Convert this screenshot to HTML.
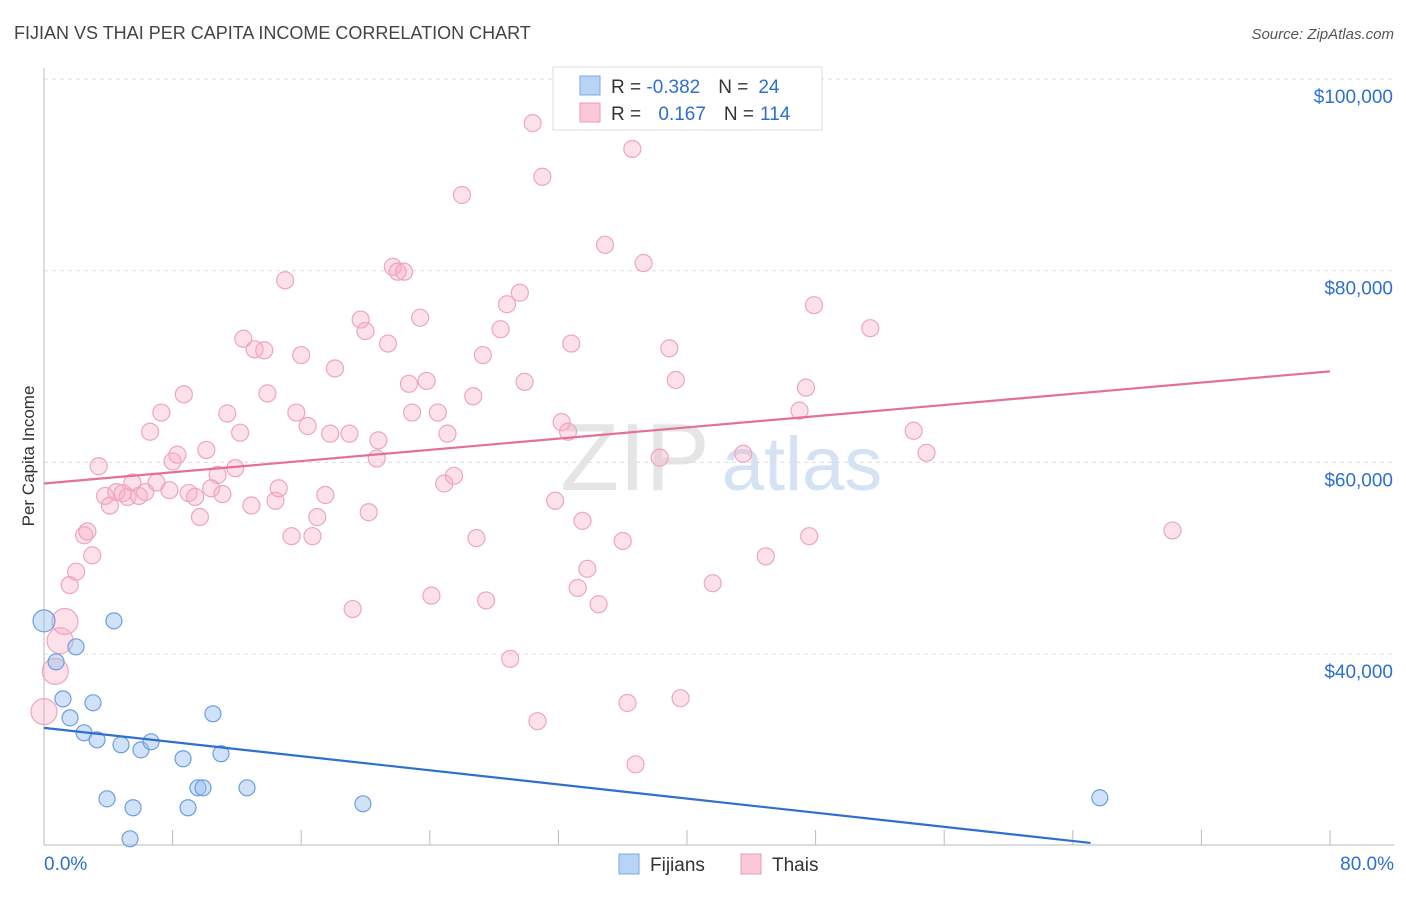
<!DOCTYPE html>
<html><head><meta charset="utf-8">
<style>
body{margin:0;background:#fff;font-family:"Liberation Sans",sans-serif;}
svg text{font-family:"Liberation Sans",sans-serif;}
</style></head>
<body>
<svg id="chart" width="1406" height="892" viewBox="0 0 1406 892" xmlns="http://www.w3.org/2000/svg">
<text x="14" y="39" font-size="18" fill="#444">FIJIAN VS THAI PER CAPITA INCOME CORRELATION CHART</text>
<text x="1394" y="39" font-size="15" fill="#555" text-anchor="end" font-style="italic">Source: ZipAtlas.com</text>
<text transform="translate(34,456) rotate(-90)" font-size="17" fill="#333" text-anchor="middle">Per Capita Income</text>
<g>
<text x="635" y="490" font-size="96" fill="#d5d5d5" font-family="Liberation Serif" text-anchor="middle" opacity="0.6">ZIP</text>
<text x="802" y="490" font-size="76" fill="#b8d0ee" text-anchor="middle" opacity="0.6">atlas</text>
</g>
<g id="grid"></g>
<g id="axes"></g>
<g id="marks"></g>
<g>
<rect x="553" y="67" width="269" height="63" fill="#fff" stroke="#ddd"/>
<rect x="580" y="76" width="20" height="19" fill="#b8d4f5" stroke="#7aaae0"/>
<rect x="580" y="103" width="20" height="19" fill="#fbc8d8" stroke="#e89ab4"/>
<text x="611" y="93" font-size="19" fill="#333">R = <tspan fill="#2e6fd0">-0.382</tspan><tspan dx="18">N =</tspan><tspan dx="10" fill="#2e6fd0">24</tspan></text>
<text x="611" y="120" font-size="19" fill="#333">R = <tspan dx="12" fill="#2e6fd0">0.167</tspan><tspan dx="18">N =</tspan><tspan dx="6" fill="#2e6fd0">114</tspan></text>
</g>
<g>
<rect x="619" y="854" width="20" height="20" fill="#b8d4f5" stroke="#7aaae0"/>
<text x="650" y="871" font-size="19" fill="#333">Fijians</text>
<rect x="741" y="854" width="20" height="20" fill="#fbc8d8" stroke="#e89ab4"/>
<text x="772" y="871" font-size="19" fill="#333">Thais</text>
</g>
</svg>
<script>
const yTicks=[40000,60000,80000,100000];
const yTickLabels=["$40,000","$60,000","$80,000","$100,000"];
const xTicks=[0,8,16,24,32,40,48,56,64,72,80];
const xEndLabels=["0.0%","80.0%"];
const fijianX=[0,0.75,1.18,1.62,1.99,2.49,3.05,3.3,3.92,4.35,4.79,5.54,5.35,6.03,6.66,8.65,8.96,9.58,9.89,10.51,11.01,12.63,19.84,65.68];
const fijianY=[43470,39190,35330,33350,40760,31790,34920,31060,24900,43470,30540,23970,20730,30010,30850,29080,23970,26050,26050,33770,29600,26050,24380,25010];
const thaiX=[0,0.7,1.0,1.3,1.6,2.0,2.5,2.7,3.0,3.4,3.8,4.1,4.5,4.9,5.2,5.5,5.9,6.3,6.6,7.0,7.3,7.8,8.0,8.3,8.7,9.0,9.4,9.7,10.1,10.4,10.8,11.1,11.4,11.9,12.2,12.4,12.9,13.1,13.7,13.9,14.4,14.6,15.0,15.4,15.7,16.0,16.4,16.7,17.0,17.5,17.8,18.1,19.0,19.2,19.7,20.0,20.2,20.7,20.8,21.4,21.7,22.0,22.4,22.7,22.9,23.4,23.8,24.1,24.5,24.9,25.1,25.5,26.0,26.7,26.9,27.3,27.5,28.4,28.8,29.0,29.6,29.9,30.4,30.7,31.0,31.8,32.2,32.6,32.8,33.2,33.5,33.8,34.5,34.9,36.0,36.3,36.6,36.8,37.3,38.3,38.9,39.3,39.6,41.6,43.5,44.9,47.0,47.4,47.6,47.9,51.4,54.1,54.9,70.2];
const thaiY=[34.0,38.2,41.4,43.4,47.2,48.6,52.4,52.8,50.3,59.6,56.5,55.5,56.9,56.8,56.4,57.9,56.5,56.9,63.2,57.9,65.2,57.1,60.1,60.8,67.1,56.8,56.4,54.3,61.3,57.3,58.7,56.7,65.1,59.4,63.1,72.9,55.5,71.8,71.7,67.2,56.0,57.3,79.0,52.3,65.2,71.2,63.8,52.3,54.3,56.6,63.0,69.8,63.0,44.7,74.9,73.7,54.8,60.4,62.3,72.4,80.4,79.9,79.9,68.2,65.2,75.1,68.5,46.1,65.2,57.8,63.0,58.6,87.9,66.9,52.1,71.2,45.6,73.9,76.5,39.5,77.7,68.4,95.4,33.0,89.8,56.0,64.2,63.2,72.4,46.9,53.9,48.9,45.2,82.7,51.8,34.9,92.7,28.5,80.8,60.5,71.9,68.6,35.4,47.4,60.9,50.2,65.4,67.8,52.3,76.4,74.0,63.3,61.0,52.9].map(v=>v*1000);
const fijianTrendX=[0,65.1];
const fijianTrendY=[32300,20300];
const thaiTrendX=[0,80];
const thaiTrendY=[57800,69500];

const NS="http://www.w3.org/2000/svg";
const X0=44,X1=1330,Y100=79,PX20K=191.7;
const xs=v=>X0+(v/80)*(X1-X0);
const ys=v=>Y100+(100000-v)/20000*PX20K;
function mk(tag,attrs,parent){const e=document.createElementNS(NS,tag);for(const k in attrs)e.setAttribute(k,attrs[k]);parent.appendChild(e);return e;}
const grid=document.getElementById('grid'),axes=document.getElementById('axes'),marks=document.getElementById('marks');
yTicks.forEach((t,i)=>{
  const l=mk('line',{x1:X0,x2:1394,y1:ys(t),y2:ys(t),stroke:'#ddd','stroke-dasharray':'4,4'},grid);
  
  
  const tx=mk('text',{x:1393,y:ys(t)+24,'font-size':19,fill:'#2e6fd0','text-anchor':'end'},axes);
  tx.textContent=yTickLabels[i];
  
  
});
const yax=mk('line',{x1:X0,x2:X0,y1:68,y2:845,stroke:'#bbb'},axes);


const xax=mk('line',{x1:X0,x2:1394,y1:845,y2:845,stroke:'#bbb'},axes);


xTicks.forEach(t=>{
  const l=mk('line',{x1:xs(t),x2:xs(t),y1:830,y2:845,stroke:'#bbb'},axes);
  
  
});
[[0,'start',xEndLabels[0]],[80,'end',xEndLabels[1]]].forEach(([v,a,s])=>{
  const tx=mk('text',{x:v===0?xs(v):1394,y:870,'font-size':19,fill:'#2e6fd0','text-anchor':a},axes);
  tx.textContent=s;
  
  
});
thaiX.forEach((x,i)=>{
  const c=mk('circle',{cx:xs(x),cy:ys(thaiY[i]),r:i<4?13:8.5,fill:'rgba(248,170,196,0.35)',stroke:'#eea5bd','stroke-width':1.2},marks);
  
  
});
fijianX.forEach((x,i)=>{
  const c=mk('circle',{cx:xs(x),cy:ys(fijianY[i]),r:i===0?11:8,fill:'rgba(150,190,240,0.45)',stroke:'#6b9ee0','stroke-width':1.2},marks);
  
  
});
const ft=mk('line',{x1:xs(fijianTrendX[0]),y1:ys(fijianTrendY[0]),x2:xs(fijianTrendX[1]),y2:ys(fijianTrendY[1]),stroke:'#2e6fd0','stroke-width':2.2},marks);


const tt=mk('line',{x1:xs(thaiTrendX[0]),y1:ys(thaiTrendY[0]),x2:xs(thaiTrendX[1]),y2:ys(thaiTrendY[1]),stroke:'#e4709a','stroke-width':2.2},marks);


</script>
</body></html>
